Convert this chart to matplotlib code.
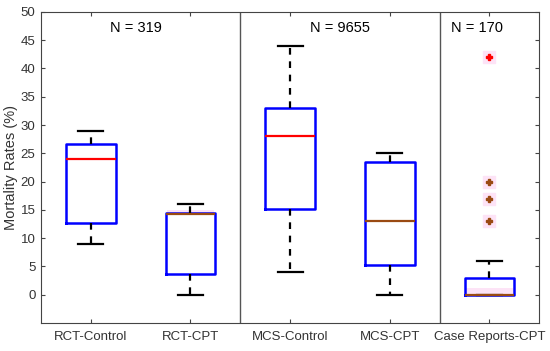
import matplotlib
matplotlib.use("Agg")
import matplotlib.pyplot as plt

plt.rcParams["font.family"] = ["Liberation Sans", "DejaVu Sans"]

# данные
groups = ["RCT-Control", "RCT-CPT", "MCS-Control", "MCS-CPT", "Case Reports-CPT"]
whislo = [9, 0, 4, 0, 0]
q1 = [12.7, 3.7, 15.2, 5.2, 0]
med = [24, 14.2, 28, 13, 0]
q3 = [26.7, 14.5, 33, 23.5, 3]
whishi = [29, 16, 44, 25, 6]
outliers = [[], [], [], [], [13, 17, 20, 42]]
n_labels = ["N = 319", "N = 9655", "N = 170"]
n_pos = [1.45, 3.5, 4.88]
separators = [2.5, 4.5]

BLUE = "#0000ff"
RED = "#ff0000"
BROWN = "#9a4a12"
PINK = "#fde3f6"

fig = plt.figure(figsize=(5.5, 3.51), dpi=100)
ax = fig.add_axes([0.0745, 0.080, 0.906, 0.886])

stats = []
for i, g in enumerate(groups):
    stats.append(dict(label=g, whislo=whislo[i], q1=q1[i], med=med[i],
                      q3=q3[i], whishi=whishi[i], fliers=[]))

pos = list(range(1, len(groups) + 1))
bp = ax.bxp(stats, positions=pos, widths=0.5, showfliers=False,
            boxprops=dict(color=BLUE, linewidth=1.8),
            whiskerprops=dict(color="black", linewidth=1.6, linestyle=(0, (3, 3))),
            capprops=dict(color="black", linewidth=1.6),
            medianprops=dict(color=RED, linewidth=1.6))

# медианы, на которые наложилась розовая подсветка, выглядят коричневыми
for i in (1, 3, 4):
    bp["medians"][i].set_color(BROWN)

# розовая подсветка
ax.fill_between([1.76, 2.24], 14.2, 14.9, color=PINK, zorder=1, lw=0)
ax.fill_between([4.76, 5.24], 0, 1.2, color=PINK, zorder=1, lw=0)
for i, vals in enumerate(outliers):
    for v in vals:
        c = RED if v > 30 else BROWN
        ax.plot(pos[i], v, marker="s", markersize=8, color=PINK, ls="none", zorder=1)
        ax.plot(pos[i], v, marker="P", markersize=5, color=c, ls="none", zorder=3)

for x in separators:
    ax.axvline(x, color="#555555", linewidth=1.0)

for x, t in zip(n_pos, n_labels):
    ax.text(x, 47.2, t, ha="center", va="center", fontsize=10.5)

ax.set_xlim(0.5, 5.5)
ax.set_ylim(-5, 50)
ax.set_yticks(range(0, 51, 5))
ax.set_xticks(pos)
ax.set_xticklabels(groups)
ax.set_ylabel("Mortality Rates (%)", fontsize=10.5, color="#333333", labelpad=2)
ax.tick_params(direction="in", top=True, right=True, labelsize=9.5,
               length=3, colors="#444444", labelcolor="#333333")
ax.tick_params(axis="x", pad=6)
ax.tick_params(axis="y", pad=4)
for s in ax.spines.values():
    s.set_color("#444444")
    s.set_linewidth(0.8)

fig.savefig("out.png")
